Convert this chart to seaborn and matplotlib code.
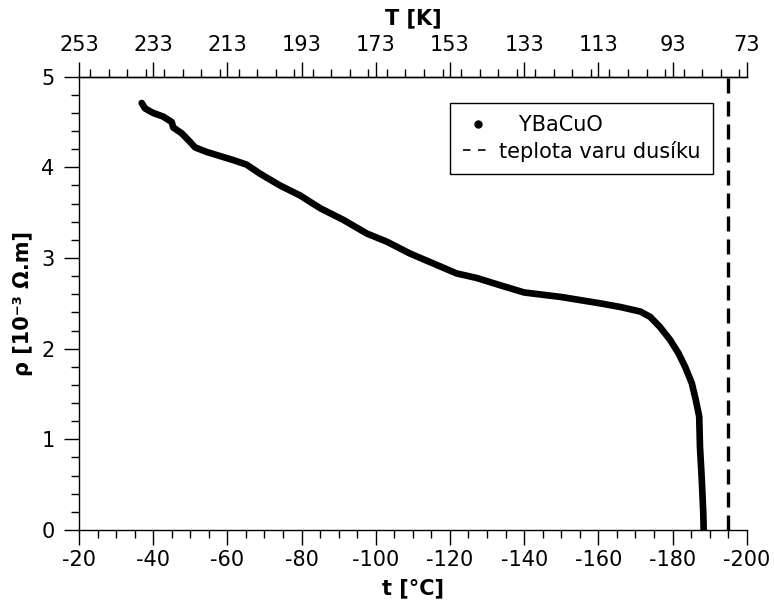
import matplotlib
matplotlib.use("Agg")
import matplotlib.pyplot as plt
from matplotlib.ticker import MultipleLocator, FixedLocator
from matplotlib.lines import Line2D
import seaborn as sns
import pandas as pd

# ---- data ----
t_c = [-36.9, -37.8, -40.0, -42.7, -45.0, -45.4, -47.7, -49.5, -51.3, -54.4,
       -58.0, -61.6, -65.2, -68.8, -74.2, -79.6, -85.0, -91.3, -97.6, -103.0,
       -109.2, -115.5, -121.8, -127.2, -133.5, -140.0, -150.0, -160.5, -165.9,
       -171.3, -174.0, -176.6, -179.3, -181.6, -183.4, -185.2, -186.3, -187.2,
       -187.4, -187.9, -188.3, -188.4]
rho = [4.71, 4.65, 4.60, 4.56, 4.50, 4.44, 4.375, 4.30, 4.22, 4.17,
       4.125, 4.08, 4.03, 3.93, 3.80, 3.69, 3.55, 3.42, 3.27, 3.18,
       3.05, 2.94, 2.83, 2.78, 2.70, 2.62, 2.57, 2.50, 2.46,
       2.41, 2.35, 2.24, 2.10, 1.95, 1.80, 1.62, 1.43, 1.25,
       0.92, 0.55, 0.18, 0.0]
t_nitrogen = -195
x_ticks = [-20, -40, -60, -80, -100, -120, -140, -160, -180, -200]
T_ticks = [253, 233, 213, 193, 173, 153, 133, 113, 93, 73]
y_ticks = [0, 1, 2, 3, 4, 5]
series_label = "   YBaCuO"
line_label = "teplota varu dusíku"

sns.set_style("ticks")
plt.rcParams["font.family"] = ["DejaVu Sans"]
plt.rcParams["text.color"] = "black"
plt.rcParams["axes.labelcolor"] = "black"
plt.rcParams["xtick.color"] = "black"
plt.rcParams["ytick.color"] = "black"

FS = 15

df = pd.DataFrame({"t": t_c, "rho": rho})

fig = plt.figure(figsize=(7.74, 6.01), dpi=100)
ax = fig.add_axes([79 / 774, 71 / 601, 667.7 / 774, 453.3 / 601])

sns.lineplot(data=df, x="t", y="rho", sort=False, estimator=None, ax=ax,
             color="black", lw=4.8, solid_capstyle="round",
             solid_joinstyle="round", legend=False)
ax.axvline(t_nitrogen, color="black", lw=2.4, dashes=(4.5, 2.4))

ax.set_xlim(-20, -200)
ax.set_ylim(0, 5)
ax.xaxis.set_major_locator(FixedLocator(x_ticks))
ax.xaxis.set_minor_locator(MultipleLocator(5))
ax.yaxis.set_major_locator(FixedLocator(y_ticks))
ax.yaxis.set_minor_locator(MultipleLocator(0.2))
ax.set_xticklabels([str(v) for v in x_ticks])

for s in ["left", "bottom", "top"]:
    ax.spines[s].set_visible(True)
    ax.spines[s].set_color("black")
    ax.spines[s].set_linewidth(1.0)
ax.spines["right"].set_visible(False)

ax.tick_params(which="major", direction="out", length=10.5, width=1.0,
               color="black", labelcolor="black", labelsize=FS, pad=4,
               top=False, right=False)
ax.tick_params(which="minor", direction="out", length=5.5, width=1.0,
               color="black", top=False, right=False)
ax.tick_params(axis="y", which="major", pad=7)

ax.set_xlabel("t [°C]", fontsize=FS, fontweight="bold", labelpad=6)
ax.set_ylabel("ρ [10⁻³ Ω.m]", fontsize=FS, fontweight="bold", labelpad=6)

sec = ax.secondary_xaxis("top", functions=(lambda t: t + 273, lambda T: T - 273))
sec.xaxis.set_major_locator(FixedLocator(T_ticks))
sec.xaxis.set_minor_locator(MultipleLocator(5))
sec.set_xticklabels([str(v) for v in T_ticks])
sec.spines["top"].set_linewidth(1.0)
sec.spines["top"].set_color("black")
sec.tick_params(which="major", direction="out", length=10.5, width=1.0,
                color="black", labelcolor="black", labelsize=FS, pad=5)
sec.tick_params(which="minor", direction="out", length=5.5, width=1.0, color="black")
sec.set_xlabel("T [K]", fontsize=FS, fontweight="bold", labelpad=8)

handles = [Line2D([], [], marker="o", ls="none", color="black", markersize=5),
           Line2D([], [], color="black", lw=1.2, ls=(0, (4.5, 4.5)))]
leg = ax.legend(handles, [series_label, line_label], loc="upper right",
                bbox_to_anchor=(0.9495, 0.942), borderaxespad=0, fontsize=FS,
                frameon=True, fancybox=False, edgecolor="black", framealpha=1,
                handlelength=1.45, handletextpad=0.3, labelspacing=0.25,
                borderpad=0.6)
leg.get_frame().set_linewidth(1.0)

fig.savefig("out.png", dpi=100)
